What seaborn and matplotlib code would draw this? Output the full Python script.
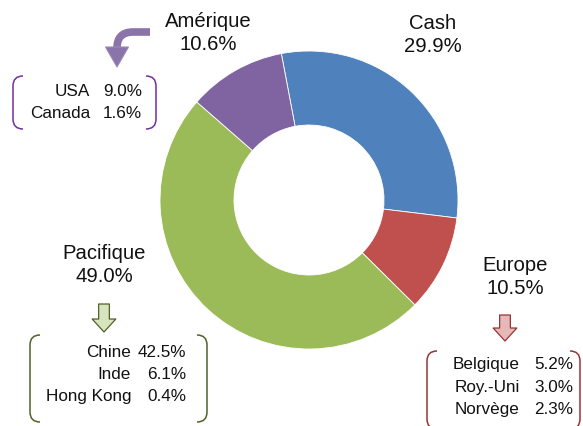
import matplotlib
matplotlib.use("Agg")
import matplotlib.pyplot as plt
import seaborn as sns
from matplotlib.path import Path
from matplotlib.patches import PathPatch, FancyArrowPatch, Polygon

# --- Data ---
regions = ["Cash", "Europe", "Pacifique", "Amérique"]
shares = [29.9, 10.5, 49.0, 10.6]
colors = ["#4F81BD", "#C0504D", "#9BBB59", "#8064A2"]

amerique_names = ["USA", "Canada"]
amerique_values = [9.0, 1.6]
pacifique_names = ["Chine", "Inde", "Hong Kong"]
pacifique_values = [42.5, 6.1, 0.4]
europe_names = ["Belgique", "Roy.-Uni", "Norvège"]
europe_values = [5.2, 3.0, 2.3]

# --- Styling ---
sns.set_theme(style="white")
plt.rcParams['font.family'] = ['Liberation Sans', 'DejaVu Sans']

W, H = 583, 427
fig = plt.figure(figsize=(W / 100, H / 100), dpi=100)
ax = fig.add_axes([0, 0, 1, 1])


def Y(y):
    # picture rows run downwards, the axes run upwards
    return H - y


ax.pie(shares, colors=colors, startangle=100.7, counterclock=False,
       center=(309, Y(201)), radius=149,
       wedgeprops=dict(width=74, edgecolor="white", linewidth=0.6))
ax.set_xlim(0, W)
ax.set_ylim(0, H)
ax.set_aspect("equal")
ax.axis("off")

main_fs = 14.6
sub_fs = 12.3

# --- Region labels ---
main_pos = {"Cash": (433, 35), "Europe": (515, 277),
            "Pacifique": (104, 265), "Amérique": (208, 33)}
for name, val in zip(regions, shares):
    x, y = main_pos[name]
    ax.text(x, Y(y), f"{name}\n{val:.1f}%", ha="center", va="center",
            fontsize=main_fs, linespacing=1.25, color="#111111")


def sub_list(names, values, x_name, x_val, y0, dy):
    for i, (n, v) in enumerate(zip(names, values)):
        ax.text(x_name, Y(y0 + i * dy), n, ha="right", va="center",
                fontsize=sub_fs, color="#111111")
        ax.text(x_val, Y(y0 + i * dy), f"{v:.1f}%", ha="right", va="center",
                fontsize=sub_fs, color="#111111")


sub_list(amerique_names, amerique_values, 90, 142, 91, 23)
sub_list(pacifique_names, pacifique_values, 131, 186, 353, 22)
sub_list(europe_names, europe_values, 520, 573, 365, 22.5)


def bracket(x0, x1, y_top, y_bot, color, r=10):
    yt, yb = Y(y_top), Y(y_bot)
    for x, s in ((x0, 1), (x1, -1)):
        verts = [(x + s * r, yt), (x, yt), (x, yt - r), (x, yb + r),
                 (x, yb), (x + s * r, yb)]
        codes = [Path.MOVETO, Path.CURVE3, Path.CURVE3, Path.LINETO,
                 Path.CURVE3, Path.CURVE3]
        ax.add_patch(PathPatch(Path(verts, codes), fill=False,
                               edgecolor=color, linewidth=1.1))


bracket(13, 156, 77, 130, "#7030A0")
bracket(30, 207, 336, 423, "#4F6228")
bracket(427, 580, 352, 430, "#943634")


def block_arrow(x, y_top, y_tip, face, edge):
    arr = FancyArrowPatch((x, Y(y_top)), (x, Y(y_tip)),
                          arrowstyle="simple,head_width=1.55,head_length=0.85,tail_width=0.7",
                          mutation_scale=11, facecolor=face, edgecolor=edge,
                          linewidth=0.9, shrinkA=0, shrinkB=0)
    ax.add_patch(arr)


block_arrow(104, 305, 333, "#D7E4BD", "#4F6228")
block_arrow(505, 316, 342, "#E6B9B8", "#943634")

# curved purple arrow: bent shaft + triangular head
purple = "#8A74AA"
shaft = Path([(150, Y(33)), (133, Y(33)), (117, Y(33)), (117, Y(49)), (117, Y(50))],
             [Path.MOVETO, Path.LINETO, Path.CURVE3, Path.CURVE3, Path.LINETO])
ax.add_patch(PathPatch(shaft, fill=False, edgecolor=purple, linewidth=5.5,
                       capstyle="butt", joinstyle="round"))
ax.add_patch(Polygon([(105.5, Y(48)), (128.5, Y(48)), (117, Y(68))], closed=True,
                     facecolor=purple, edgecolor="#9C8AB8", linewidth=0.8))

fig.savefig("out.png", dpi=100)
